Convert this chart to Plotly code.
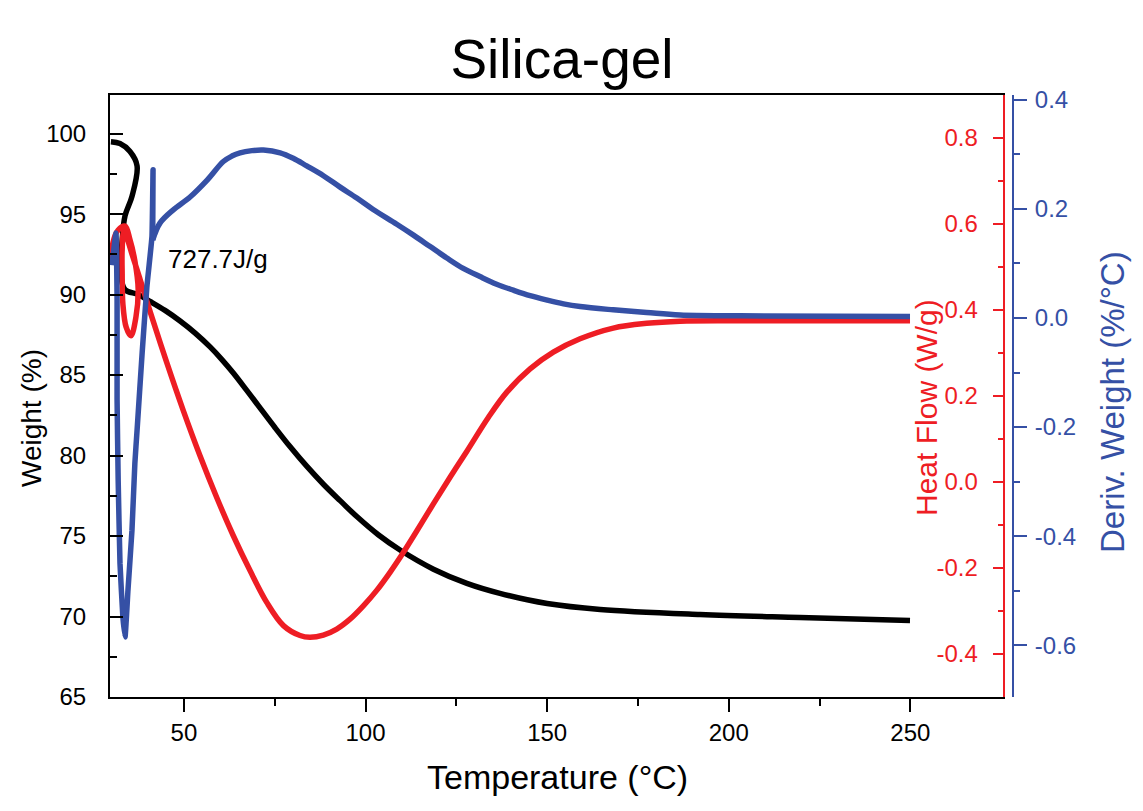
import plotly.graph_objects as go

# ---- data ----
temp_weight = [29.9, 32.4, 35.1, 37.1, 35.7, 33.8, 33.0, 32.7, 33.8, 37.4, 40.67, 44.8,
               48.95, 53.1, 57.2, 60.4, 63.6, 67.3, 70.95, 75.1, 79.2, 83.8, 88.4, 93.0,
               97.6, 103.5, 109.5, 118.7, 127.9, 137.0, 150.0, 164.6, 192.1, 219.6, 249.9]
weight = [99.5, 99.38, 98.9, 98.0, 96.1, 94.9, 93.4, 91.1, 90.3, 90.0, 89.58, 89.02,
          88.36, 87.61, 86.75, 85.98, 85.13, 84.05, 82.96, 81.73, 80.56, 79.34, 78.22, 77.2,
          76.21, 75.08, 74.13, 72.94, 72.06, 71.44, 70.81, 70.44, 70.13, 69.94, 69.75]

temp_heat = [30.2, 30.5, 31.9, 33.8, 35.1, 36.5, 37.4, 36.8, 35.4, 34.1, 33.2, 33.0, 33.0,
             33.5, 35.7, 37.9, 40.74, 45.26, 49.83, 54.43, 59.03, 63.6, 68.2, 72.8, 77.4,
             81.97, 84.7, 88.38, 92.07, 95.73, 99.4, 103.08, 106.75, 110.4, 114.1,
             118.67, 123.27, 127.86, 133.8, 138.9, 145.3, 151.7, 159.06, 168.2, 177.4,
             186.6, 203.1, 249.9]
heat_flow = [0.514, 0.558, 0.586, 0.595, 0.565, 0.514, 0.449, 0.384, 0.340, 0.360, 0.414,
             0.484, 0.542, 0.584, 0.530, 0.472, 0.395, 0.278, 0.166, 0.061, -0.036,
             -0.125, -0.206, -0.280, -0.334, -0.357, -0.361, -0.356, -0.342, -0.319,
             -0.288, -0.252, -0.210, -0.164, -0.114, -0.051, 0.011, 0.071, 0.150, 0.209,
             0.263, 0.302, 0.333, 0.358, 0.369, 0.374, 0.375, 0.375]

temp_deriv = [30.2, 31.3, 31.6, 31.6, 31.9, 32.4, 33.2, 33.8, 34.6, 35.7, 36.5, 37.1,
              38.5, 39.8, 41.2, 41.5, 41.4, 43.4, 47.0, 51.7, 56.4, 60.85, 63.2, 65.45,
              68.7, 71.9, 76.5, 80.1, 83.8, 88.4, 93.0, 97.6, 102.1, 108.6,
              113.2, 117.8, 122.4, 126.9, 131.5, 136.1, 140.7, 145.3, 149.9, 154.5,
              159.1, 168.2, 177.4, 186.6, 203.1, 249.9]
deriv_weight = [0.097, 0.156, 0.033, -0.150, -0.297, -0.450, -0.549, -0.585, -0.499,
                -0.389, -0.266, -0.206, -0.064, 0.057, 0.149, 0.272, 0.143, 0.174,
                0.198, 0.222, 0.253, 0.287, 0.297, 0.303, 0.307, 0.308, 0.303, 0.293,
                0.279, 0.261, 0.240, 0.220, 0.199, 0.172, 0.152, 0.131, 0.110,
                0.091, 0.076, 0.062, 0.051, 0.041, 0.033, 0.026, 0.021, 0.015, 0.010,
                0.0055, 0.004, 0.003]
SPIKE_END = 17  # index where the derivative curve leaves its initial spikes

x_ticks = [50, 100, 150, 200, 250]
w_ticks = [65, 70, 75, 80, 85, 90, 95, 100]
h_ticks = [-0.4, -0.2, 0.0, 0.2, 0.4, 0.6, 0.8]
d_ticks = [-0.6, -0.4, -0.2, 0.0, 0.2, 0.4]

BLACK = "#000000"
RED = "#EE1D24"
BLUE = "#3550A5"
FONT = "Liberation Sans, Arial, sans-serif"
LW = 5.5

W, H = 1143, 811
L, R, T, B = 110, 130, 95, 114
plot_w = W - L - R
plot_h = H - T - B
x_end = (1003 - L) / plot_w

fig = go.Figure()
fig.add_trace(go.Scatter(x=temp_weight, y=weight, mode="lines",
                         line=dict(color=BLACK, width=LW, shape="spline", smoothing=1.0),
                         yaxis="y", showlegend=False))
fig.add_trace(go.Scatter(x=temp_heat, y=heat_flow, mode="lines",
                         line=dict(color=RED, width=LW, shape="spline", smoothing=1.0),
                         yaxis="y2", showlegend=False))
fig.add_trace(go.Scatter(x=temp_deriv[:SPIKE_END], y=deriv_weight[:SPIKE_END], mode="lines",
                         line=dict(color=BLUE, width=LW, shape="spline", smoothing=0.3),
                         yaxis="y3", showlegend=False))
fig.add_trace(go.Scatter(x=temp_deriv[SPIKE_END - 1:], y=deriv_weight[SPIKE_END - 1:],
                         mode="lines",
                         line=dict(color=BLUE, width=LW, shape="spline", smoothing=1.0),
                         yaxis="y3", showlegend=False))

fig.update_layout(
    width=W, height=H,
    margin=dict(l=L, r=R, t=T, b=B, pad=0),
    paper_bgcolor="white", plot_bgcolor="white",
    font=dict(family=FONT, color=BLACK, size=23),
    title=dict(text="Silica-gel", x=562 / W, xref="container", xanchor="center",
               y=1 - 59 / H, yref="container", yanchor="middle",
               font=dict(size=55, family=FONT, color=BLACK)),
    xaxis=dict(domain=[0, x_end], range=[29.65, 275.5], tickvals=x_ticks,
               showgrid=False, zeroline=False,
               showline=True, linecolor=BLACK, linewidth=2, mirror=True,
               ticks="outside", ticklen=13, tickwidth=2, tickcolor=BLACK,
               minor=dict(ticks="outside", ticklen=7, tickwidth=2, tickcolor=BLACK,
                          tickvals=[75, 125, 175, 225, 275]),
               tickfont=dict(size=24, family=FONT, color=BLACK)),
    yaxis=dict(range=[65, 102.4], tickvals=w_ticks, showgrid=False, zeroline=False,
               showline=True, linecolor=BLACK, linewidth=2,
               ticks="inside", ticklen=13, tickwidth=2, tickcolor=BLACK,
               ticklabelstandoff=17,
               minor=dict(ticks="inside", ticklen=7, tickwidth=2, tickcolor=BLACK,
                          tickvals=[67.5, 72.5, 77.5, 82.5, 87.5, 92.5, 97.5]),
               tickfont=dict(size=24, family=FONT, color=BLACK)),
    yaxis2=dict(overlaying="y", side="right", anchor="x", range=[-0.5, 0.9],
                tickvals=h_ticks, ticktext=[f"{v:.1f}" for v in h_ticks],
                showgrid=False, zeroline=False,
                showline=True, linecolor=RED, linewidth=2,
                ticks="inside", ticklen=10, tickwidth=2, tickcolor=RED,
                ticklabelposition="inside", ticklabelstandoff=17,
                minor=dict(ticks="inside", ticklen=5, tickwidth=2, tickcolor=RED,
                           tickvals=[-0.3, -0.1, 0.1, 0.3, 0.5, 0.7]),
                tickfont=dict(size=24, family=FONT, color=RED)),
    yaxis3=dict(overlaying="y", side="right", anchor="free", position=1.0,
                range=[-0.695, 0.409], tickvals=d_ticks,
                ticktext=[f"{v:.1f}" for v in d_ticks],
                showgrid=False, zeroline=False,
                showline=True, linecolor=BLUE, linewidth=2,
                ticks="outside", ticklen=13, tickwidth=2, tickcolor=BLUE,
                ticklabelstandoff=3,
                minor=dict(ticks="outside", ticklen=6, tickwidth=2, tickcolor=BLUE,
                           tickvals=[-0.5, -0.3, -0.1, 0.1, 0.3]),
                tickfont=dict(size=24, family=FONT, color=BLUE)),
)

# axis titles and the enthalpy label
fig.add_annotation(text="Temperature (°C)", xref="paper", yref="paper",
                   x=(557 - L) / plot_w, y=-(777 - (H - B)) / plot_h,
                   xanchor="center", yanchor="middle", showarrow=False,
                   font=dict(size=34, family=FONT, color=BLACK))
fig.add_annotation(text="Weight (%)", xref="paper", yref="paper",
                   x=-(L - 31) / plot_w, y=((H - B) - 418) / plot_h,
                   xanchor="center", yanchor="middle", textangle=-90, showarrow=False,
                   font=dict(size=28, family=FONT, color=BLACK))
fig.add_annotation(text="Heat Flow (W/g)", xref="paper", yref="paper",
                   x=(926 - L) / plot_w, y=((H - B) - 408) / plot_h,
                   xanchor="center", yanchor="middle", textangle=-90, showarrow=False,
                   font=dict(size=30, family=FONT, color=RED))
fig.add_annotation(text="Deriv. Weight (%/°C)", xref="paper", yref="paper",
                   x=(1112 - L) / plot_w, y=((H - B) - 402) / plot_h,
                   xanchor="center", yanchor="middle", textangle=-90, showarrow=False,
                   font=dict(size=33, family=FONT, color=BLUE))
fig.add_annotation(text="727.7J/g", xref="x", yref="y", x=59.4, y=92.2,
                   xanchor="center", yanchor="middle", showarrow=False,
                   font=dict(size=26, family=FONT, color=BLACK))

fig.write_html("out.html")
